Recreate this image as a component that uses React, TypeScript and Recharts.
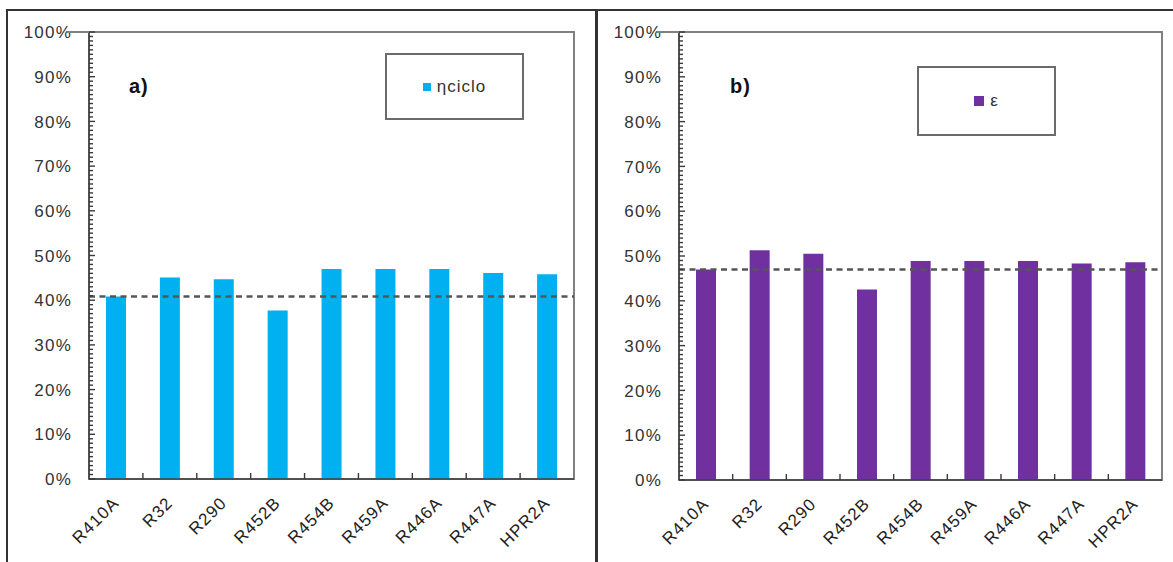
import React from 'react';
import { BarChart, Bar, XAxis, YAxis, ReferenceLine, ReferenceArea, Legend } from 'recharts';

const categories = ['R410A', 'R32', 'R290', 'R452B', 'R454B', 'R459A', 'R446A', 'R447A', 'HPR2A'];
const etaCiclo = [40.8, 45.1, 44.7, 37.7, 47.0, 47.0, 47.0, 46.1, 45.8];
const epsilon = [47.0, 51.3, 50.5, 42.5, 48.9, 48.9, 48.9, 48.3, 48.6];
const yMajorTicks = [0, 10, 20, 30, 40, 50, 60, 70, 80, 90, 100];
const yMinorStep = 1;

const FONT = '"Liberation Sans", Arial, Helvetica, sans-serif';
const AXIS = '#404040';
const BORDER = '#808080';
const Y_AXIS_W = 60;
const X_AXIS_H = 60;
const CHART_H = 562;

const yAllTicks: number[] = [];
for (let v = 0; v <= 100; v += yMinorStep) yAllTicks.push(v);

const makeYTick = (axisX: number) => (props: any) => {
  const { y, payload } = props;
  const v = payload.value;
  const major = yMajorTicks.includes(v);
  return (
    <g>
      <line x1={axisX} x2={axisX + (major ? 6 : 4)} y1={y} y2={y} stroke="#3a3a3a" strokeWidth={1.4} />
      {major && (
        <text x={axisX - 17} y={y} dy="0.36em" textAnchor="end" fontSize={17} fill="#333" fontFamily={FONT} letterSpacing={1.2}>
          {v}%
        </text>
      )}
      {v === 100 && <line x1={axisX - 22} x2={axisX} y1={y} y2={y} stroke={BORDER} strokeWidth={2} />}
    </g>
  );
};

const makeXTick = (plotW: number, axisY: number) => (props: any) => {
  const { x, payload, index } = props;
  const half = plotW / categories.length / 2;
  const ax = x + 4;
  const ay = axisY + 25;
  return (
    <g>
      {index < categories.length - 1 && (
        <line x1={x + half} x2={x + half} y1={axisY} y2={axisY - 6} stroke="#3a3a3a" strokeWidth={1.4} />
      )}
      <text x={ax} y={ay} textAnchor="end" transform={`rotate(-45 ${ax} ${ay})`} fontSize={17} fill="#222" fontFamily={FONT} letterSpacing={1.1}>
        {payload.value}
      </text>
    </g>
  );
};

const makeLegend = (size: number) => (props: any) => {
  const item = props.payload && props.payload[0];
  if (!item) return null;
  return (
    <div style={{ display: 'flex', alignItems: 'center', justifyContent: 'center', width: '100%', height: '100%' }}>
      <span style={{ display: 'inline-block', width: size, height: size, background: item.color, marginRight: 6 }} />
      <span style={{ fontFamily: FONT, fontSize: 17, color: '#333', letterSpacing: 1 }}>{item.value}</span>
    </div>
  );
};

type PanelProps = {
  values: number[];
  color: string;
  name: string;
  width: number;
  margin: { top: number; right: number; bottom: number; left: number };
  legendBox: { left: number; top: number; width: number; height: number };
  legendSquare: number;
};

const Panel = ({ values, color, name, width, margin, legendBox, legendSquare }: PanelProps) => {
  const data = categories.map((c, i) => ({ name: c, value: values[i] }));
  const axisX = margin.left + Y_AXIS_W;
  const axisY = CHART_H - margin.bottom - X_AXIS_H;
  const plotW = width - margin.right - axisX;
  return (
    <BarChart width={width} height={CHART_H} data={data} margin={margin}>
      <XAxis
        dataKey="name"
        interval={0}
        height={X_AXIS_H}
        tickSize={0}
        tickMargin={0}
        tickLine={false}
        axisLine={{ stroke: AXIS, strokeWidth: 1.5 }}
        tick={makeXTick(plotW, axisY)}
      />
      <YAxis
        type="number"
        domain={[0, 100]}
        ticks={yAllTicks}
        interval={0}
        width={Y_AXIS_W}
        tickSize={0}
        tickMargin={0}
        tickLine={false}
        axisLine={{ stroke: AXIS, strokeWidth: 1.5 }}
        tick={makeYTick(axisX)}
      />
      <ReferenceArea y1={0} y2={100} fill="none" fillOpacity={0} stroke={BORDER} strokeWidth={2} ifOverflow="visible" />
      <Legend
        layout="horizontal"
        verticalAlign="middle"
        align="center"
        wrapperStyle={{
          position: 'absolute',
          left: legendBox.left,
          top: legendBox.top,
          width: legendBox.width,
          height: legendBox.height,
          border: '2px solid #6b6b6b',
          boxSizing: 'border-box',
          background: '#fff',
        }}
        content={makeLegend(legendSquare)}
      />
      <Bar dataKey="value" name={name} fill={color} barSize={20} isAnimationActive={false} />
      <ReferenceLine y={values[0]} stroke="#555" strokeWidth={2.5} strokeDasharray="6 4.5" />
    </BarChart>
  );
};

export default function App() {
  return (
    <div style={{ position: 'absolute', left: 0, top: 0, width: 1173, height: 562, overflow: 'hidden', background: '#fff' }}>
      <div style={{ position: 'absolute', left: 0, top: 0 }}>
        <Panel
          values={etaCiclo}
          color="#00B0F0"
          name="ηciclo"
          width={597}
          margin={{ top: 32, right: 23, bottom: 23, left: 29 }}
          legendBox={{ left: 385, top: 53, width: 139, height: 67 }}
          legendSquare={8}
        />
      </div>
      <div style={{ position: 'absolute', left: 597, top: 0 }}>
        <Panel
          values={epsilon}
          color="#7030A0"
          name="ε"
          width={576}
          margin={{ top: 32, right: 11, bottom: 22, left: 22 }}
          legendBox={{ left: 320, top: 66, width: 139, height: 70 }}
          legendSquare={10}
        />
      </div>
      <div style={{ position: 'absolute', left: 129, top: 76, fontFamily: FONT, fontWeight: 'bold', fontSize: 20, lineHeight: '20px', color: '#111', letterSpacing: 1 }}>a)</div>
      <div style={{ position: 'absolute', left: 730, top: 76, fontFamily: FONT, fontWeight: 'bold', fontSize: 20, lineHeight: '20px', color: '#111', letterSpacing: 1 }}>b)</div>
      <div style={{ position: 'absolute', left: 7, top: 9, width: 1166, height: 2, background: '#333' }} />
      <div style={{ position: 'absolute', left: 6, top: 9, width: 2, height: 553, background: '#333' }} />
      <div style={{ position: 'absolute', left: 595, top: 9, width: 3, height: 553, background: '#333' }} />
    </div>
  );
}
